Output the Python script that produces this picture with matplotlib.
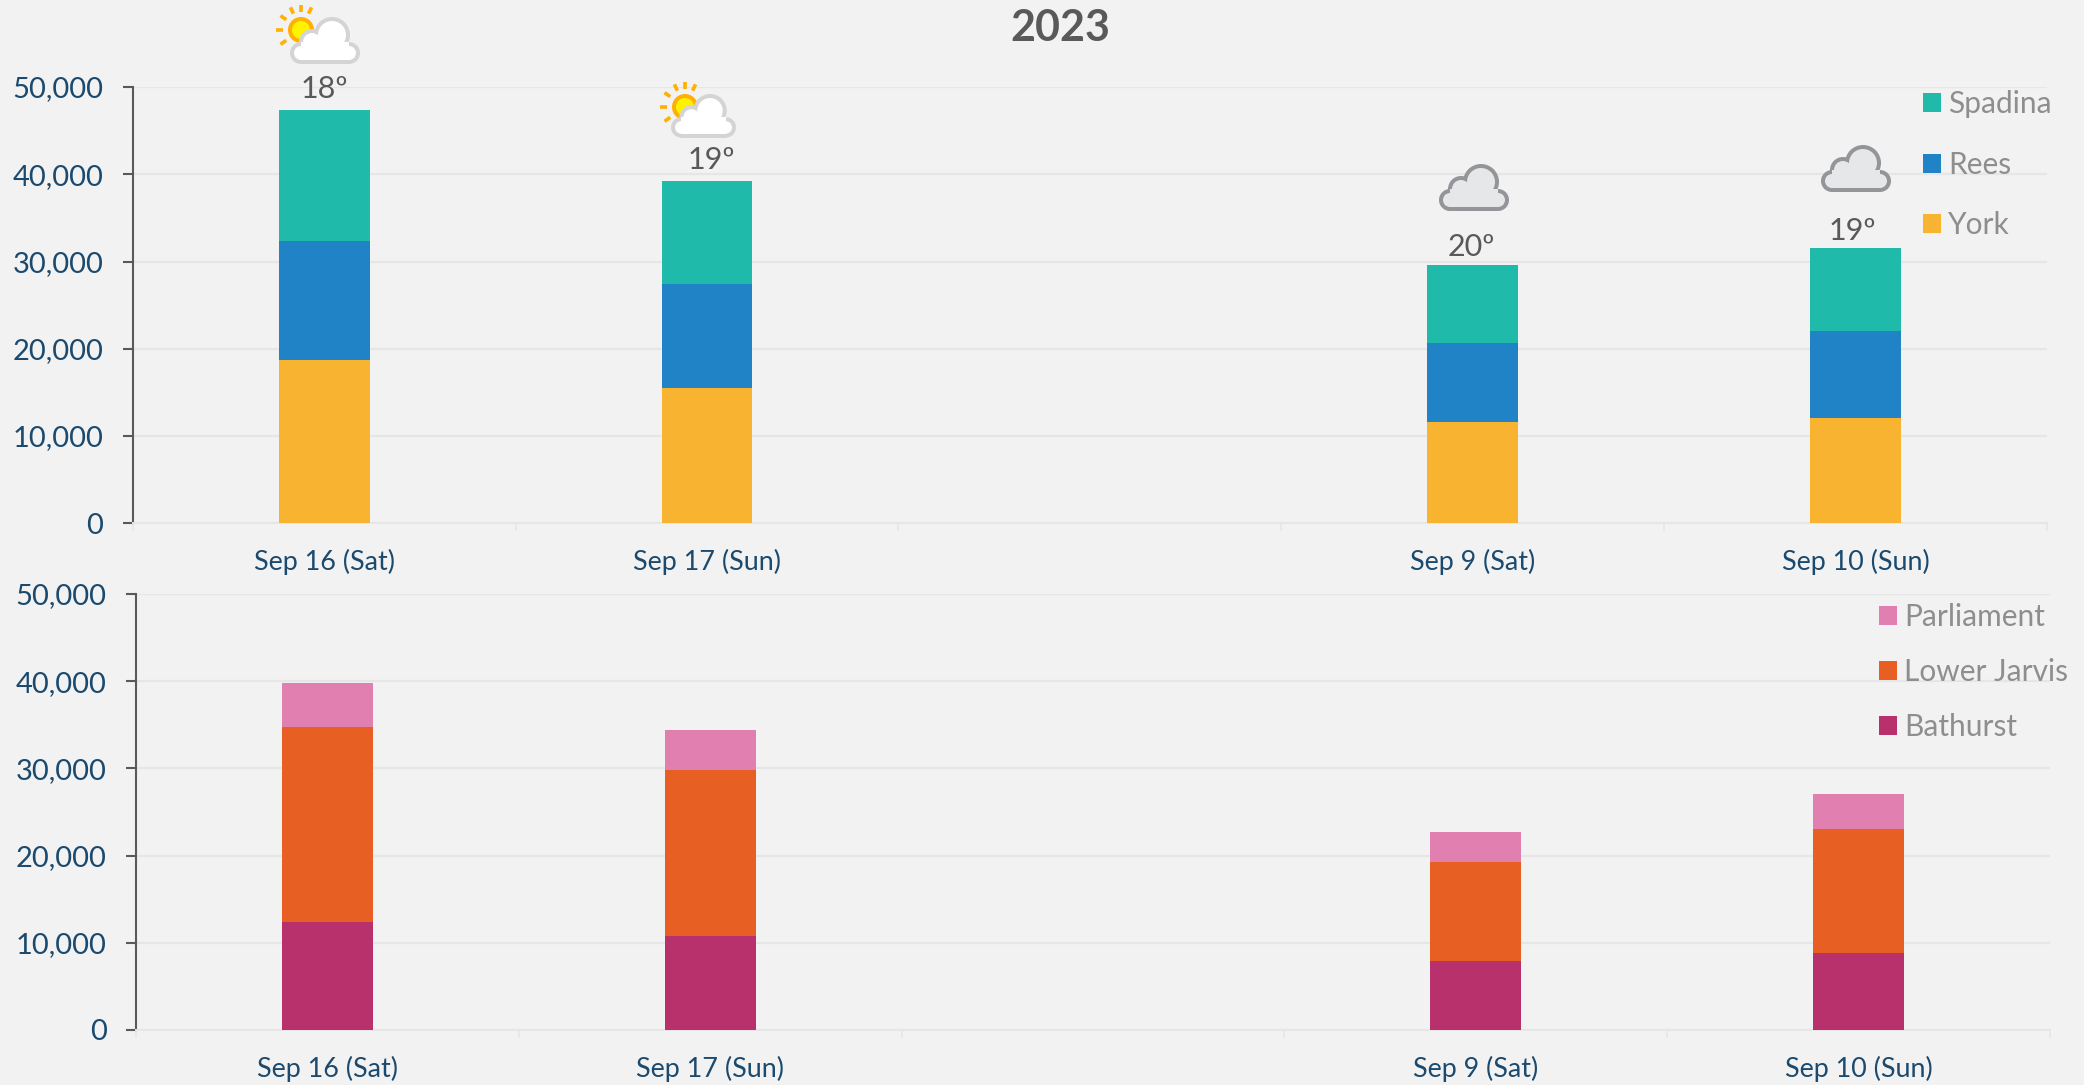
import math
import matplotlib
matplotlib.use("Agg")
import matplotlib.pyplot as plt
from matplotlib.patches import Circle, FancyBboxPatch, Patch

W, H = 2084, 1085
days = ["Sep 16 (Sat)", "Sep 17 (Sun)", "", "Sep 9 (Sat)", "Sep 10 (Sun)"]
york = [18700, 15500, 0, 11600, 12100]
rees = [13700, 11900, 0, 9050, 9900]
spadina = [15000, 11850, 0, 8950, 9500]
bathurst = [12400, 10800, 0, 7900, 8800]
lower_jarvis = [22300, 19000, 0, 11400, 14200]
parliament = [5100, 4600, 0, 3400, 4100]
temps = ["18º", "19º", "", "20º", "19º"]
temp_offsets = [(0, 21), (4, 21), (0, 0), (-1, 18), (-3, 17)]
yticks = [0, 10000, 20000, 30000, 40000, 50000]

BG = "#f2f2f2"
GRID = "#e6e6e6"
TICK = "#1b4a6e"
AXIS = "#595959"
LEG = "#8e8e8e"
plt.rcParams["font.family"] = ["Lato", "DejaVu Sans"]

fig = plt.figure(figsize=(W / 100, H / 100), dpi=100, facecolor=BG)


def make_axes(left, right, top, bottom):
    ax = fig.add_axes([left / W, 1 - bottom / H, (right - left) / W, (bottom - top) / H])
    ax.set_facecolor(BG)
    ax.set_xlim(-0.5, len(days) - 0.5)
    ax.set_ylim(0, 50000)
    ax.set_yticks(yticks)
    ax.set_yticklabels([f"{v:,}" for v in yticks], fontsize=21, color=TICK)
    ax.tick_params(axis="y", length=7.2, width=1.5, color=AXIS, pad=14)
    ax.set_xticks([i - 0.5 for i in range(len(days) + 1)])
    ax.set_xticklabels([])
    ax.tick_params(axis="x", which="major", length=6, width=1.2, color=GRID)
    ax.set_xticks(range(len(days)), minor=True)
    ax.set_xticklabels(days, minor=True, fontsize=19.4, color=TICK)
    ax.tick_params(axis="x", which="minor", length=0, pad=18.5)
    ax.grid(axis="y", color=GRID, lw=1.6, zorder=0)
    ax.set_axisbelow(True)
    for s in ("top", "right"):
        ax.spines[s].set_visible(False)
    ax.spines["left"].set_color(AXIS)
    ax.spines["left"].set_linewidth(1.5)
    ax.spines["bottom"].set_color(GRID)
    ax.spines["bottom"].set_linewidth(1.4)
    return ax


def stack(ax, series, anchor, spacing):
    base = [0] * len(days)
    handles = []
    for name, vals, col in series:
        ax.bar(range(len(days)), vals, 0.2376, bottom=base, color=col, lw=0, zorder=3)
        base = [a + b for a, b in zip(base, vals)]
        handles.append(Patch(color=col, lw=0, label=name))
    ax.legend(handles=handles[::-1], loc="upper left", bbox_to_anchor=(anchor[0] / W, 1 - anchor[1] / H),
              bbox_transform=fig.transFigure, frameon=False, fontsize=21.5, labelcolor=LEG,
              handlelength=0.6, handleheight=0.6, handletextpad=0.25, labelspacing=spacing,
              borderpad=0, borderaxespad=0)
    return base


ax1 = make_axes(132.7, 2047, 87, 523.3)
tops = stack(ax1, [("York", york, "#f8b331"), ("Rees", rees, "#1f83c6"), ("Spadina", spadina, "#20baab")],
             (1923, 90), 1.09)
ax2 = make_axes(136, 2050, 594, 1030)
stack(ax2, [("Bathurst", bathurst, "#b8316d"), ("Lower Jarvis", lower_jarvis, "#e85f23"),
            ("Parliament", parliament, "#e07fb0")], (1879, 603), 0.91)

for i, t in enumerate(temps):
    if t:
        ax1.annotate(t, (i, tops[i]), xytext=temp_offsets[i], textcoords="offset pixels", ha="center", va="center",
                     fontsize=22, color="#595959", zorder=5)

ov = fig.add_axes([0, 0, 1, 1], zorder=10)
ov.set_xlim(0, W)
ov.set_ylim(H, 0)
ov.axis("off")
ov.patch.set_visible(False)
ov.text(1060, 28, "2023", ha="center", va="center", fontsize=31, fontweight="bold", color="#595959")


def cloud(x, y, w, edge, fill, stroke=4):
    k = w / 70
    lobes = [(42, 18, 18), (22, 25, 13), (11, 36, 11), (59, 36, 11)]
    for inset, col, z in ((0, edge, 1), (stroke, fill, 2)):
        for cx, cy, r in lobes:
            ov.add_patch(Circle((x + cx * k, y + cy * k), (r * k - inset), fc=col, ec="none", zorder=z))
        ov.add_patch(FancyBboxPatch((x + 11 * k, y + 25 * k), 48 * k, 22 * k - inset,
                                    boxstyle="square,pad=0", fc=col, ec="none", zorder=z))


def sun(cx, cy, r=13):
    for ang in (90, 65, 115, 145, 180, 215):
        a = math.radians(ang)
        ov.plot([cx + (r + 5) * math.cos(a), cx + (r + 12) * math.cos(a)],
                [cy - (r + 5) * math.sin(a), cy - (r + 12) * math.sin(a)],
                color="#ffb000", lw=2.6, solid_capstyle="butt", zorder=0.5)
    ov.add_patch(Circle((cx, cy), r, fc="#ffb000", ec="none", zorder=0.6))
    ov.add_patch(Circle((cx, cy), r - 4, fc="#fff200", ec="none", zorder=0.7))


sun(301, 30)
cloud(290, 17, 70, "#d4d4d4", "#ffffff")
sun(685, 107)
cloud(671, 94, 65, "#d4d4d4", "#ffffff")
cloud(1439, 164, 70, "#939598", "#e6e7e8")
cloud(1821, 145, 70, "#939598", "#e6e7e8")

fig.savefig("out.png", dpi=100, facecolor=BG)
